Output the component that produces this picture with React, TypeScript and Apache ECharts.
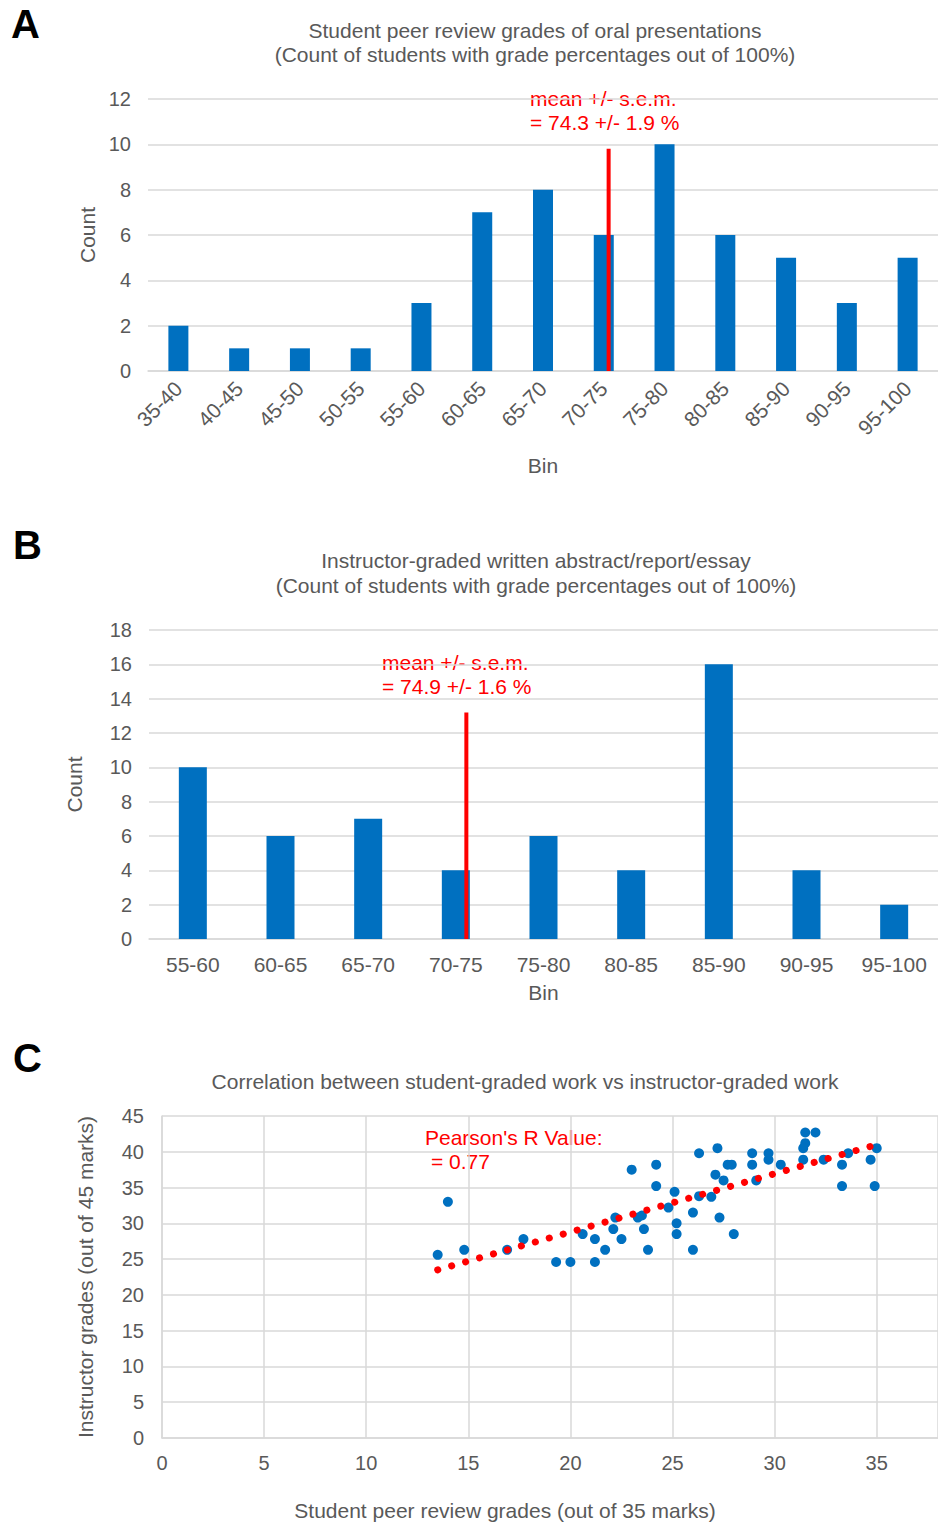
import React, { useEffect, useRef } from "react";
import * as echarts from "echarts";

// ---------- Panel A data ----------
const binsA = ["35-40", "40-45", "45-50", "50-55", "55-60", "60-65", "65-70", "70-75", "75-80", "80-85", "85-90", "90-95", "95-100"];
const countsA = [2, 1, 1, 1, 3, 7, 8, 6, 10, 6, 5, 3, 5];
const meanLineA = [[72.9, 0], [72.9, 9.8]];

// ---------- Panel B data ----------
const binsB = ["55-60", "60-65", "65-70", "70-75", "75-80", "80-85", "85-90", "90-95", "95-100"];
const countsB = [10, 6, 7, 4, 6, 4, 16, 4, 2];
const meanLineB = [[73.1, 0], [73.1, 13.2]];

// ---------- Panel C data ----------
const studentGrades = [
  13.5, 14.0, 14.8, 16.9, 17.7, 19.3, 20.0, 20.6, 21.2, 21.2, 21.7, 22.1, 22.2, 22.5,
  23.0, 23.3, 23.5, 23.6, 23.8, 24.2, 24.2, 24.8, 25.1, 25.2, 25.2, 26.0, 26.0, 26.3,
  26.3, 26.9, 27.1, 27.2, 27.3, 27.5, 27.7, 27.9, 28.0, 28.9, 28.9, 29.1, 29.7, 29.7,
  30.3, 31.5, 32.0, 31.5, 31.4, 31.4, 32.4, 33.3, 33.3, 33.6, 34.7, 34.9, 35.0,
];
const instructorGrades = [
  25.6, 33.0, 26.3, 26.3, 27.8, 24.6, 24.6, 28.5, 24.6, 27.8, 26.3, 29.2, 30.8, 27.8,
  37.5, 30.8, 31.1, 29.2, 26.3, 38.2, 35.2, 32.2, 34.4, 30.0, 28.5, 26.3, 31.5, 39.8,
  33.8, 33.7, 36.8, 40.5, 30.8, 36.0, 38.2, 38.2, 28.5, 39.8, 38.2, 36.0, 39.8, 38.9,
  38.2, 42.7, 42.7, 41.2, 40.5, 38.9, 38.9, 38.2, 35.2, 39.8, 38.9, 35.2, 40.5,
];
const trendLine = [[13.5, 23.5], [35.0, 41.0]];

const FONT = "'Liberation Sans', Arial, sans-serif";
const GRAY = "#595959";
const GRID = "#d9d9d9";
const BLUE = "#0070C0";
const RED = "#ff0000";
const FS = 21;

export default function App() {
  const ref = useRef<HTMLDivElement>(null);

  useEffect(() => {
    if (!ref.current) return;
    const chart = echarts.init(ref.current, null, { renderer: "svg" });

    const scatterData = studentGrades.map((x, i) => [x, instructorGrades[i]]);
    const labelStyle = { color: GRAY, fontSize: 20, fontFamily: FONT };
    const nameStyle = { color: GRAY, fontSize: FS, fontFamily: FONT };
    const split = { show: true, lineStyle: { color: GRID, width: 1.5 } };
    const redText = (x: number, y: number, text: string) => ({
      type: "text", x, y,
      style: { text, fontSize: FS, fill: RED, fontFamily: FONT, align: "left", verticalAlign: "middle" },
    });

    const option: any = {
      animation: false,
      backgroundColor: "#ffffff",
      textStyle: { fontFamily: FONT },
      title: [
        {
          text: "Student peer review grades of oral presentations\n(Count of students with grade percentages out of 100%)",
          left: 530, top: 13, textAlign: "center",
          textStyle: { color: GRAY, fontSize: FS, fontWeight: "normal", fontFamily: FONT, lineHeight: 24 },
        },
        {
          text: "Instructor-graded written abstract/report/essay\n(Count of students with grade percentages out of 100%)",
          left: 531, top: 543, textAlign: "center",
          textStyle: { color: GRAY, fontSize: FS, fontWeight: "normal", fontFamily: FONT, lineHeight: 25 },
        },
        {
          text: "Correlation between student-graded work vs instructor-graded work",
          left: 520, top: 1065, textAlign: "center",
          textStyle: { color: GRAY, fontSize: FS, fontWeight: "normal", fontFamily: FONT, lineHeight: 22 },
        },
      ],
      grid: [
        { left: 148, top: 99, width: 793, height: 272 },
        { left: 149, top: 630, width: 792, height: 309 },
        { left: 162, top: 1116, width: 779, height: 322 },
      ],
      xAxis: [
        {
          type: "category", gridIndex: 0, data: binsA,
          axisLine: { lineStyle: { color: GRID, width: 1.5 } }, axisTick: { show: false },
          axisLabel: { ...labelStyle, fontSize: FS, rotate: 45, margin: 14, interval: 0 },
          name: "Bin", nameLocation: "middle", nameGap: 84, nameTextStyle: nameStyle,
        },
        { type: "value", gridIndex: 0, min: 35, max: 100, show: false },
        {
          type: "category", gridIndex: 1, data: binsB,
          axisLine: { lineStyle: { color: GRID, width: 1.5 } }, axisTick: { show: false },
          axisLabel: { ...labelStyle, fontSize: FS, margin: 15, interval: 0 },
          name: "Bin", nameLocation: "middle", nameGap: 43, nameTextStyle: nameStyle,
        },
        { type: "value", gridIndex: 1, min: 55, max: 100, show: false },
        {
          type: "value", gridIndex: 2, min: 0, max: 38, interval: 5,
          axisLine: { show: true, lineStyle: { color: GRID, width: 1.5 } }, axisTick: { show: false },
          axisLabel: { ...labelStyle, margin: 15, showMaxLabel: false },
          splitLine: split,
        },
      ],
      yAxis: [
        {
          type: "value", gridIndex: 0, min: 0, max: 12, interval: 2,
          axisLine: { show: false }, axisTick: { show: false },
          axisLabel: { ...labelStyle, margin: 17 }, splitLine: split,
          name: "Count", nameLocation: "middle", nameGap: 48, nameTextStyle: nameStyle,
        },
        {
          type: "value", gridIndex: 1, min: 0, max: 18, interval: 2,
          axisLine: { show: false }, axisTick: { show: false },
          axisLabel: { ...labelStyle, margin: 17 }, splitLine: split,
          name: "Count", nameLocation: "middle", nameGap: 64, nameTextStyle: nameStyle,
        },
        {
          type: "value", gridIndex: 2, min: 0, max: 45, interval: 5,
          axisLine: { show: true, lineStyle: { color: GRID, width: 1.5 } }, axisTick: { show: false },
          axisLabel: { ...labelStyle, margin: 18 }, splitLine: split,
          name: "Instructor grades (out of 45 marks)", nameLocation: "middle", nameGap: 66,
          nameTextStyle: nameStyle,
        },
      ],
      series: [
        {
          type: "bar", xAxisIndex: 0, yAxisIndex: 0, data: countsA, barWidth: 20,
          itemStyle: { color: BLUE },
        },
        {
          type: "line", xAxisIndex: 1, yAxisIndex: 0, data: meanLineA, symbol: "none",
          lineStyle: { color: RED, width: 4 }, z: 5,
        },
        {
          type: "bar", xAxisIndex: 2, yAxisIndex: 1, data: countsB, barWidth: 28,
          itemStyle: { color: BLUE },
        },
        {
          type: "line", xAxisIndex: 3, yAxisIndex: 1, data: meanLineB, symbol: "none",
          lineStyle: { color: RED, width: 4 }, z: 5,
        },
        {
          type: "scatter", xAxisIndex: 4, yAxisIndex: 2, data: scatterData, symbolSize: 10,
          itemStyle: { color: BLUE, opacity: 1 },
        },
        {
          type: "line", xAxisIndex: 4, yAxisIndex: 2, data: trendLine, symbol: "none",
          lineStyle: { color: RED, width: 7, type: [0.1, 14.4], cap: "round" }, z: 5,
        },
      ],
      graphic: [
        { type: "text", left: 11, top: 4, style: { text: "A", fontSize: 40, fontWeight: "bold", fill: "#000", fontFamily: FONT } },
        { type: "text", left: 13, top: 525, style: { text: "B", fontSize: 40, fontWeight: "bold", fill: "#000", fontFamily: FONT } },
        { type: "text", left: 13, top: 1038, style: { text: "C", fontSize: 40, fontWeight: "bold", fill: "#000", fontFamily: FONT } },
        redText(530, 98, "mean +/- s.e.m."),
        redText(530, 122, "= 74.3 +/- 1.9 %"),
        redText(382, 662, "mean +/- s.e.m."),
        redText(382, 686, "= 74.9 +/- 1.6 %"),
        redText(425, 1137, "Pearson's R Value:"),
        redText(431, 1161, "= 0.77"),
        {
          type: "text", x: 505, y: 1510,
          style: {
            text: "Student peer review grades (out of 35 marks)", fontSize: FS, fill: GRAY,
            fontFamily: FONT, align: "center", verticalAlign: "middle",
          },
        },
      ],
    };

    chart.setOption(option);
    return () => chart.dispose();
  }, []);

  return (
    <div
      ref={ref}
      style={{ position: "absolute", left: 0, top: 0, width: 938, height: 1522, background: "#fff" }}
    />
  );
}
